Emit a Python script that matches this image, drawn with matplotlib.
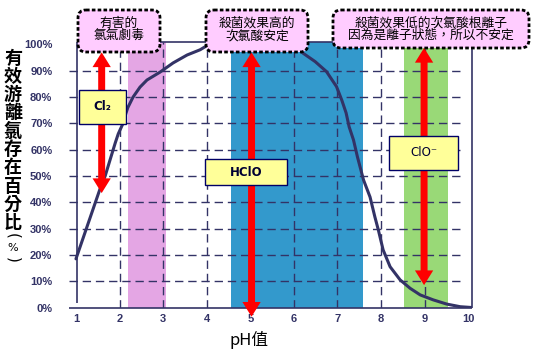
import numpy as np
import matplotlib
matplotlib.use('Agg')
import matplotlib.pyplot as plt
from matplotlib.patches import Rectangle, FancyArrow, FancyBboxPatch

# ---------------- data
ph = [1.0, 1.55, 1.67, 1.78, 1.9, 1.97, 2.08, 2.15, 2.19, 2.31, 2.47, 2.63, 2.93, 3.23, 3.55,
      3.85, 4.0, 4.3, 5.9, 6.05, 6.22, 6.49, 6.75, 6.98, 7.1, 7.2, 7.27, 7.37, 7.46, 7.6,
      7.75, 7.86, 7.94, 8.05, 8.21, 8.44, 8.67, 8.9, 9.2, 9.51, 9.82, 10.08]
free_cl = [18.5, 45, 50, 56, 62.5, 66, 70, 74, 76, 80, 83.8, 86.5, 89.5, 93, 96,
           98, 99.5, 100, 100, 99, 96.6, 93.5, 89.7, 84, 78.9, 74, 68.7, 63.7, 57.3, 48.5,
           42, 34.5, 29.5, 21.9, 15.5, 10.5, 7.3, 4.8, 2.9, 1.3, 0.3, 0]

x_ticks = [1, 2, 3, 4, 5, 6, 7, 8, 9, 10]
y_ticks = [0, 10, 20, 30, 40, 50, 60, 70, 80, 90, 100]
y_ticklabels = ['%d%%' % v for v in y_ticks]

# coloured pH zones
band_start = [2.2, 4.55, 8.52]
band_end = [3.06, 7.58, 9.55]
band_colors = ['#E4A6E4', '#3399CC', '#99D977']

# red double arrows (pH, low %, high %)
arrow_ph = [1.59, 5.03, 8.99]
arrow_low = [43.5, -3.5, 8.5]
arrow_high = [97.0, 97.0, 98.7]

# species labels (yellow boxes)
species = ['Cl\u2082', 'HClO', 'ClO\u207b']
species_weight = ['bold', 'bold', 'normal']
species_box = [(1.07, 69.8, 1.07, 12.9), (3.96, 46.6, 1.88, 9.7), (8.19, 52.3, 1.58, 12.9)]

# callouts at the top (pixel boxes)
callout_lines = [['有害的', '氯氣劇毒'],
                 ['殺菌效果高的', '次氯酸安定'],
                 ['殺菌效果低的次氯酸根離子', '因為是離子狀態，所以不安定']]
callout_box = [(78, 10, 82, 42), (206, 10, 102, 42), (333, 10, 196, 38)]

ylabel_chars = ['有', '效', '游', '離', '氯', '存', '在', '百', '分', '比']

navy = '#333366'
cjk = ['Noto Sans CJK TC', 'DejaVu Sans']
num_font = ['Liberation Sans Narrow', 'Liberation Sans', 'DejaVu Sans']

W, H = 536, 357
fig = plt.figure(figsize=(W / 100, H / 100), dpi=100)
ax = fig.add_axes([69 / W, 1 - 307.5 / H, 403 / W, 265.5 / H])
ax.set_xlim(0.84, 10.09)
ax.set_ylim(0, 100.95)
for s in ax.spines.values():
    s.set_visible(False)

# zones
for a, b, c in zip(band_start, band_end, band_colors):
    ax.axvspan(a, b, color=c, lw=0, zorder=1)

# grid
ax.hlines(y_ticks[1:-1], 0.84, 9.88, colors=navy, linestyles=(0, (6, 3.5)), lw=1, zorder=2)
ax.vlines(x_ticks[1:-1], 0, 100.95, colors=navy, linestyles=(0, (6, 3.5)), lw=1, zorder=2)

# frame
ax.hlines(0, 0.84, 10.09, colors=navy, lw=1.2, zorder=3, clip_on=False)
ax.vlines(1.02, 1.7, 100.95, colors=navy, lw=1.2, zorder=3, clip_on=False)
ax.vlines(10.09, 0, 100.95, colors=navy, lw=1.2, zorder=3, clip_on=False)
ax.hlines(100.95, 1.02, 10.09, colors=navy, lw=1.2, zorder=3, clip_on=False)

# curve
ax.plot(ph, free_cl, color=navy, lw=2.2, zorder=4, solid_capstyle='round')

# arrows
for x, lo, hi in zip(arrow_ph, arrow_low, arrow_high):
    mid = (lo + hi) / 2
    for end in (hi, lo):
        ax.add_patch(FancyArrow(x, mid, 0, end - mid, width=0.16, head_width=0.42,
                                head_length=5.6, length_includes_head=True,
                                color='#FF0000', lw=0, zorder=5, clip_on=False))

# species boxes
for name, wt, (x0, y0, w, h) in zip(species, species_weight, species_box):
    ax.add_patch(Rectangle((x0, y0), w, h, facecolor='#FFFF99', edgecolor='#000066',
                           lw=1, zorder=6))
    ax.text(x0 + w / 2, y0 + h / 2, name, ha='center', va='center', fontsize=8.5,
            fontweight=wt, color='#000033', family=['DejaVu Sans'], zorder=7)

ax.set_xticks(x_ticks)
ax.set_xticklabels([str(v) for v in x_ticks])
ax.set_yticks(y_ticks)
ax.set_yticklabels(y_ticklabels)
ax.tick_params(length=0, colors=navy)
ax.tick_params(axis='x', pad=5)
ax.tick_params(axis='y', pad=12)
for lab in ax.get_xticklabels() + ax.get_yticklabels():
    lab.set_family(num_font)
    lab.set_fontweight('bold')
    lab.set_fontsize(8)

# overlay in pixel coordinates for titles / callouts
ov = fig.add_axes([0, 0, 1, 1], zorder=5)
ov.set_xlim(0, W)
ov.set_ylim(H, 0)
ov.axis('off')

for lines, (x0, y0, w, h) in zip(callout_lines, callout_box):
    ov.add_patch(FancyBboxPatch((x0, y0), w, h, boxstyle='round,pad=0,rounding_size=8',
                                facecolor='#FFCCFF', edgecolor='black', lw=2,
                                linestyle=(0, (1.3, 0.8))))
    cx = x0 + w / 2
    ov.text(cx, y0 + 13, lines[0], ha='center', va='center', fontsize=9.2, family=cjk)
    ov.text(cx, y0 + 25.5, lines[1], ha='center', va='center', fontsize=9.2, family=cjk)

ov.text(249, 340, 'pH值', ha='center', va='center', fontsize=12, family=cjk)

# vertical axis title, one character per line
for i, ch in enumerate(ylabel_chars):
    ov.text(13, 58 + i * 18.3, ch, ha='center', va='center', fontsize=13,
            fontweight='bold', family=cjk)
ov.text(13, 236, '(', ha='center', va='center', fontsize=11, rotation=270,
        rotation_mode='anchor', family=['DejaVu Sans'])
ov.text(13, 248, '%', ha='center', va='center', fontsize=8, family=['DejaVu Sans'])
ov.text(13, 260, ')', ha='center', va='center', fontsize=11, rotation=270,
        rotation_mode='anchor', family=['DejaVu Sans'])

fig.savefig('out.png', dpi=100, facecolor='white')
